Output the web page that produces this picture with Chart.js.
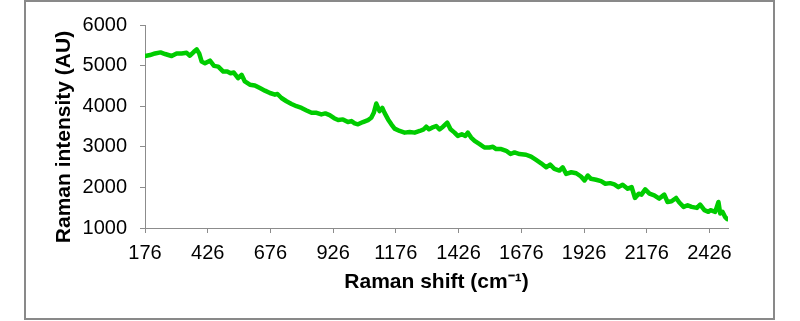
<!DOCTYPE html>
<html>
<head>
<meta charset="utf-8">
<script src="https://cdn.jsdelivr.net/npm/chart.js@4/dist/chart.umd.min.js"></script>
<style>
  html, body { margin: 0; padding: 0; background: #ffffff; }
  #wrap { width: 800px; height: 321px; }
</style>
</head>
<body>
<div id="wrap"><canvas id="c" width="800" height="321"></canvas></div>
<script>
// Raman shift (cm-1) values
const ramanShift = [
  176, 196, 216, 238, 256, 282, 302, 322, 342, 355, 371, 382, 392, 402, 415, 435, 451, 468, 488, 504,
  517, 530, 547, 561, 574, 594, 614, 634, 654, 674, 694, 704, 720, 740, 760, 780, 800, 820, 840, 860,
  879, 895, 912, 930, 946, 965, 985, 999, 1012, 1025, 1045, 1065, 1078, 1088, 1098, 1111, 1122, 1131, 1145, 1158,
  1171, 1191, 1211, 1231, 1251, 1271, 1287, 1297, 1308, 1320, 1337, 1350, 1363, 1381, 1394, 1410, 1423, 1439, 1453, 1463,
  1476, 1490, 1510, 1529, 1549, 1563, 1576, 1596, 1616, 1633, 1649, 1669, 1695, 1715, 1735, 1755, 1775, 1791, 1808, 1828,
  1841, 1855, 1875, 1895, 1914, 1928, 1941, 1954, 1974, 1994, 2011, 2030, 2047, 2063, 2080, 2100, 2116, 2129, 2144, 2155,
  2170, 2187, 2206, 2226, 2246, 2259, 2275, 2293, 2306, 2323, 2339, 2355, 2376, 2389, 2406, 2422, 2430, 2449, 2462, 2469,
  2478, 2488, 2497
];
// Raman intensity (AU) values
const intensity = [
  5237, 5260, 5300, 5325, 5285, 5237, 5300, 5300, 5315, 5244, 5340, 5400, 5300, 5098, 5056, 5122, 4993, 4975, 4854, 4854,
  4812, 4829, 4690, 4773, 4610, 4529, 4512, 4446, 4383, 4325, 4285, 4300, 4202, 4122, 4056, 4000, 3958, 3895, 3837, 3837,
  3797, 3822, 3780, 3705, 3659, 3675, 3610, 3634, 3578, 3554, 3610, 3659, 3715, 3837, 4066, 3878, 3958, 3837, 3675, 3554,
  3447, 3390, 3349, 3366, 3349, 3390, 3431, 3495, 3431, 3471, 3512, 3431, 3488, 3593, 3431, 3349, 3268, 3310, 3268, 3349,
  3227, 3146, 3066, 2983, 2983, 3000, 2944, 2944, 2902, 2822, 2861, 2822, 2805, 2756, 2676, 2593, 2495, 2561, 2456, 2415,
  2495, 2334, 2373, 2349, 2268, 2171, 2293, 2212, 2188, 2154, 2090, 2105, 2075, 2007, 2066, 1968, 2007, 1740, 1846, 1822,
  1951, 1846, 1805, 1724, 1822, 1641, 1658, 1740, 1627, 1520, 1561, 1520, 1495, 1578, 1439, 1398, 1439, 1398, 1641, 1358,
  1398, 1276, 1220
];
// Tick labels
const xTicks = [176, 426, 676, 926, 1176, 1426, 1676, 1926, 2176, 2426];
const yTicks = [1000, 2000, 3000, 4000, 5000, 6000];
const xTitle = 'Raman shift (cm\u207B\u00B9)';
const yTitle = 'Raman intensity (AU)';

const points = ramanShift.map((x, i) => ({ x: x, y: intensity[i] }));

const framePlugin = {
  id: 'frame',
  beforeDraw(chart) {
    const ctx = chart.ctx;
    ctx.save();
    ctx.fillStyle = '#ffffff';
    ctx.fillRect(0, 0, chart.width, chart.height);
    ctx.strokeStyle = '#898989';
    ctx.lineWidth = 2;
    ctx.strokeRect(25, 1, 749, 318);
    ctx.restore();
  }
};

const axisGray = '#8c8c8c';

new Chart(document.getElementById('c'), {
  type: 'line',
  data: {
    datasets: [{
      data: points,
      borderColor: '#00cc00',
      borderWidth: 4.5,
      pointRadius: 0,
      tension: 0,
      borderJoinStyle: 'round',
      borderCapStyle: 'round',
      fill: false
    }]
  },
  options: {
    responsive: false,
    animation: false,
    devicePixelRatio: 1,
    layout: { padding: { left: 40, right: 72, top: 23, bottom: 20 } },
    plugins: { legend: { display: false }, tooltip: { enabled: false } },
    scales: {
      x: {
        type: 'linear',
        min: 176,
        max: 2500,
        afterBuildTicks(scale) { scale.ticks = xTicks.map(v => ({ value: v })); },
        afterFit(scale) { scale.height = 73; },
        ticks: {
          autoSkip: false,
          maxRotation: 0,
          padding: 8,
          color: '#000000',
          font: { family: '"Liberation Sans", Arial, sans-serif', size: 20 },
          callback: (v) => String(v)
        },
        grid: { drawOnChartArea: false, drawTicks: true, tickLength: 5, color: axisGray, lineWidth: 1 },
        border: { display: true, color: axisGray, width: 1 },
        title: {
          display: true,
          text: xTitle,
          color: '#000000',
          padding: { top: 0, bottom: 6 },
          font: { family: '"Liberation Sans", Arial, sans-serif', size: 21, weight: 'bold' }
        }
      },
      y: {
        type: 'linear',
        min: 1000,
        max: 6000,
        afterBuildTicks(scale) { scale.ticks = yTicks.map(v => ({ value: v })); },
        afterFit(scale) { scale.width = 105; },
        ticks: {
          padding: 13,
          color: '#000000',
          font: { family: '"Liberation Sans", Arial, sans-serif', size: 20 },
          callback: (v) => String(v)
        },
        grid: { drawOnChartArea: false, drawTicks: true, tickLength: 5, color: axisGray, lineWidth: 1 },
        border: { display: true, color: axisGray, width: 1 },
        title: {
          display: true,
          text: yTitle + '\u2002\u2002',
          color: '#000000',
          padding: { top: 12, bottom: 0 },
          font: { family: '"Liberation Sans", Arial, sans-serif', size: 21, weight: 'bold' }
        }
      }
    }
  },
  plugins: [framePlugin]
});
</script>
</body>
</html>
